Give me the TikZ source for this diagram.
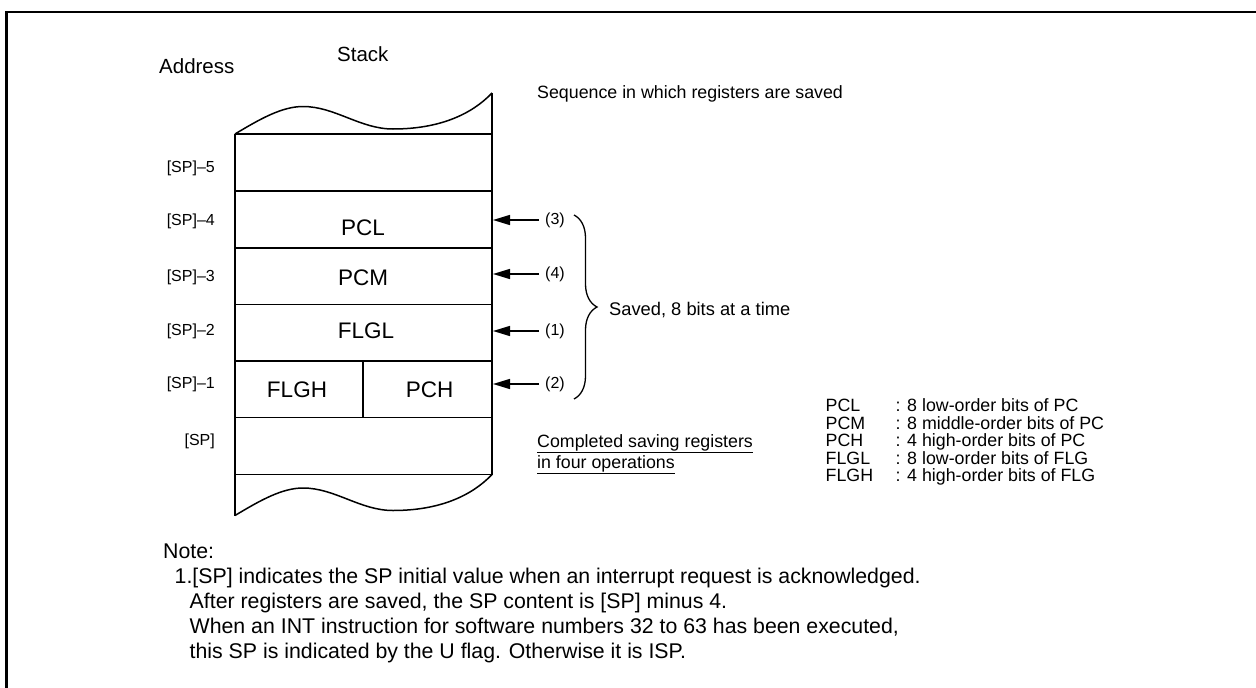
\documentclass[tikz,border=0pt]{standalone}
\usepackage{fontspec}
\setmainfont{Liberation Sans}
\usetikzlibrary{decorations.pathreplacing,arrows.meta}
\begin{document}
\begin{tikzpicture}[x=1pt,y=-1pt,
  wall/.style={line width=1.5pt},
  cell/.style={font=\fontsize{22.5}{26}\selectfont, inner sep=0},
  addr/.style={font=\fontsize{16}{19}\selectfont, inner sep=0, anchor=east},
  lbl/.style={font=\fontsize{17.8}{21}\selectfont, inner sep=0, anchor=base west},
  notetext/.style={font=\fontsize{21.3}{25}\selectfont, inner sep=0, anchor=base west},
  head/.style={font=\fontsize{20.5}{24}\selectfont, inner sep=0, anchor=base west},
  num/.style={font=\fontsize{16}{19}\selectfont, inner sep=0, anchor=west},
  push/.style={line width=1.4pt, -{Triangle[length=17pt,width=10pt]}},
  bracestyle/.style={line width=1.3pt, decorate, decoration={brace, amplitude=23pt}},
]
\useasboundingbox (0,0) rectangle (1256,688);
\draw[line width=2.7pt] (6.5,688) -- (6.5,12) -- (1256,12);

% headings
\node[head] (address) at (159,73.3) {Address};
\node[head] (stack) at (337,61.7) {Stack};
\node[lbl] (seq) at (537,98) {Sequence in which registers are saved};

% stack outline with torn ends
\foreach \o in {0,381.5}{
  \draw[wall] (235,{134+\o}) .. controls (260,{119+\o}) and (282,{106.5+\o}) .. (303,{106.5+\o})
    .. controls (335,{106.5+\o}) and (360,{129+\o}) .. (393,{129+\o})
    .. controls (440,{129+\o}) and (472,{114+\o}) .. (492,{93+\o});
}
\draw[wall] (235,134) -- (235,516);
\draw[wall] (492,93) -- (492,474.5);
\foreach \y in {134,191,248,304.5,361,417.5,474.5} \draw[wall] (235,\y) -- (492,\y);
\draw[wall] (363,361) -- (363,417.5);

% cell contents
\node[cell] (pcl) at (363,227.5) {PCL};
\node[cell] (pcm) at (363,278) {PCM};
\node[cell] (flgl) at (366,331) {FLGL};
\node[cell] (flgh) at (297,390) {FLGH};
\node[cell] (pch) at (429.5,390) {PCH};

% addresses
\node[addr] (a5) at (215,168) {[SP]–5};
\node[addr] (a4) at (215,221.7) {[SP]–4};
\node[addr] (a3) at (215,277) {[SP]–3};
\node[addr] (a2) at (215,331.7) {[SP]–2};
\node[addr] (a1) at (215,384) {[SP]–1};
\node[addr] (a0) at (215,441.7) {[SP]};

% save order arrows
\node[num] (n3) at (545,220) {(3)};
\node[num] (n4) at (545,274) {(4)};
\node[num] (n1) at (545,331) {(1)};
\node[num] (n2) at (545,384) {(2)};
\coordinate (e3) at (493,220);
\coordinate (e4) at (493,274);
\coordinate (e1) at (493,331);
\coordinate (e2) at (493,384);
\draw[push] ([xshift=-6pt]n3.west) -- (e3);
\draw[push] ([xshift=-6pt]n4.west) -- (e4);
\draw[push] ([xshift=-6pt]n1.west) -- (e1);
\draw[push] ([xshift=-6pt]n2.west) -- (e2);

% brace
\coordinate (bt) at (574,215);
\coordinate (bb) at (574,399);
\draw[bracestyle] (bt) -- (bb);
\node[lbl, font=\fontsize{18.3}{21}\selectfont] (saved) at (609,315) {Saved, 8 bits at a time};

% completed
\node[lbl] (c1) at (537,447) {\underline{Completed saving registers}};
\node[lbl] (c2) at (537,468) {\underline{in four operations}};

% legend
\node[lbl] (k1) at (825.5,411.5) {PCL};
\node[lbl] (k2) at (825.5,429) {PCM};
\node[lbl] (k3) at (825.5,446.5) {PCH};
\node[lbl] (k4) at (825.5,464) {FLGL};
\node[lbl] (k5) at (825.5,481.5) {FLGH};
\node[lbl] (d1) at (895.5,411.5) {: 8 low-order bits of PC};
\node[lbl] (d2) at (895.5,429) {: 8 middle-order bits of PC};
\node[lbl] (d3) at (895.5,446.5) {: 4 high-order bits of PC};
\node[lbl] (d4) at (895.5,464) {: 8 low-order bits of FLG};
\node[lbl] (d5) at (895.5,481.5) {: 4 high-order bits of FLG};

% note
\node[notetext] (note) at (163,558) {Note:};
\node[notetext] (t1) at (174.5,583) {1.[SP] indicates the SP initial value when an interrupt request is acknowledged.};
\node[notetext] (t2) at (189.5,608) {After registers are saved, the SP content is [SP] minus 4.};
\node[notetext] (t3) at (189.5,633.5) {When an INT instruction for software numbers 32 to 63 has been executed,};
\node[notetext] (t4) at (189.5,658) {this SP is indicated by the U flag. Otherwise it is ISP.};
\end{tikzpicture}
\end{document}
